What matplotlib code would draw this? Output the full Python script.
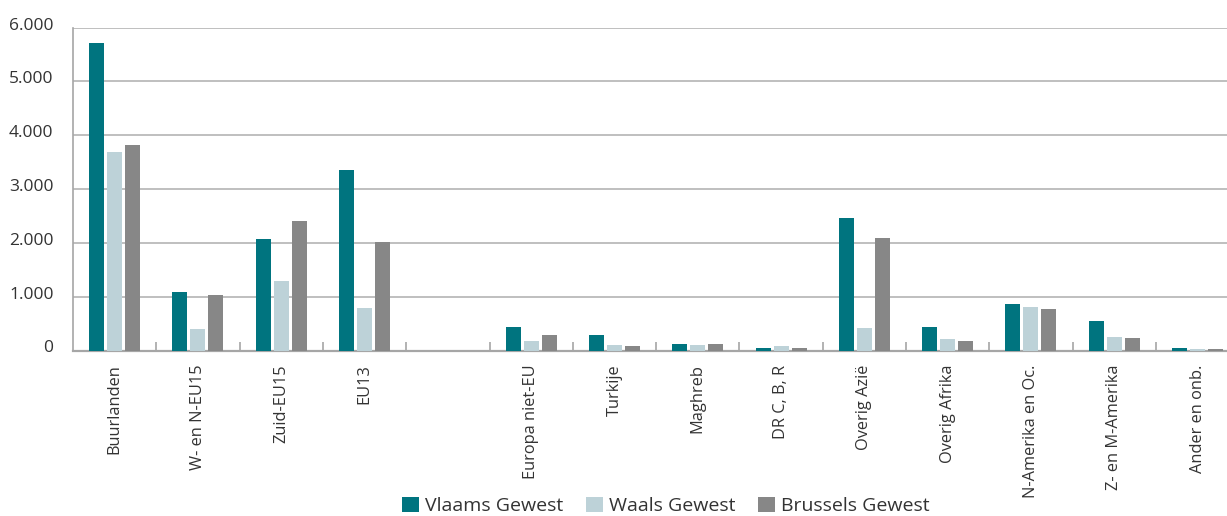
import numpy as np
import matplotlib
matplotlib.use("Agg")
import matplotlib.pyplot as plt
import matplotlib.transforms as mtransforms
from matplotlib.ticker import FuncFormatter, FixedLocator
from matplotlib.patches import Patch

categories = ["Buurlanden", "W- en N-EU15", "Zuid-EU15", "EU13", "",
              "Europa niet-EU", "Turkije", "Maghreb", "DR C, B, R", "Overig Azië",
              "Overig Afrika", "N-Amerika en Oc.", "Z- en M-Amerika", "Ander en onb."]
vlaams = [5720, 1080, 2070, 3350, np.nan, 430, 285, 117, 43, 2465, 441, 869, 553, 50]
waals = [3690, 395, 1285, 785, np.nan, 173, 99, 99, 80, 420, 218, 814, 255, 32]
brussels = [3820, 1025, 2400, 2010, np.nan, 285, 80, 117, 43, 2090, 180, 776, 236, 32]
series_names = ["Vlaams Gewest", "Waals Gewest", "Brussels Gewest"]
colors = ["#00747F", "#BDD2D8", "#878787"]

plt.rcParams['font.family'] = ['Open Sans', 'DejaVu Sans']
text_color = "#333333"

W, H = 1227, 516
fig = plt.figure(figsize=(W / 100, H / 100), dpi=100)
left, right, bottom, top = 73, 1227, 350.5, 27.7
ax = fig.add_axes([left / W, 1 - bottom / H, (right - left) / W, (bottom - top) / H])

x = np.arange(len(categories))
bw = 0.18
step = 0.216
for i, (vals, c, name) in enumerate(zip([vlaams, waals, brussels], colors, series_names)):
    ax.bar(x + (i - 1) * step, vals, width=bw, color=c, label=name, zorder=3)

cat_w = 83.3
ax.set_xlim(-0.5, -0.5 + (right - left) / cat_w)
ax.set_ylim(0, 6000)
ax.set_yticks(np.arange(0, 6001, 1000))
ax.yaxis.set_major_formatter(FuncFormatter(lambda v, p: f"{int(v):,}".replace(",", ".")))
ax.grid(axis='y', color='#b4b4b4', linewidth=1.2, zorder=0)
ax.set_axisbelow(True)

ax.set_xticks(x)
ax.set_xticklabels(categories, rotation=90, va='top', ha='center')
ax.xaxis.set_minor_locator(FixedLocator(x[:-1] + 0.5))
ax.tick_params(axis='x', which='major', length=0, pad=10, labelsize=11.8, labelcolor=text_color)
ax.tick_params(axis='x', which='minor', direction='in', length=6.5, width=1.2, color='#a6a6a6')
ax.tick_params(axis='y', length=0, pad=14, labelsize=12.5, labelcolor=text_color)

# shift y tick labels slightly upward as in the reference
offset = mtransforms.ScaledTranslation(0, 4 / 100, fig.dpi_scale_trans)
for lbl in ax.get_yticklabels():
    lbl.set_transform(lbl.get_transform() + offset)

for s in ['top', 'right']:
    ax.spines[s].set_visible(False)
ax.spines['left'].set_color('#a6a6a6')
ax.spines['left'].set_linewidth(1.2)
ax.spines['bottom'].set_color('#a6a6a6')
ax.spines['bottom'].set_linewidth(1.6)

handles = [Patch(facecolor=c, edgecolor='none') for c in colors]
fig.legend(handles, series_names, loc='center', bbox_to_anchor=(666 / W, 1 - 506 / H),
           ncol=3, frameon=False, fontsize=14, handlelength=0.87, handleheight=0.87,
           handletextpad=0.32, columnspacing=1.15, labelcolor=text_color,
           borderpad=0, borderaxespad=0)

fig.savefig("out.png", dpi=100)
